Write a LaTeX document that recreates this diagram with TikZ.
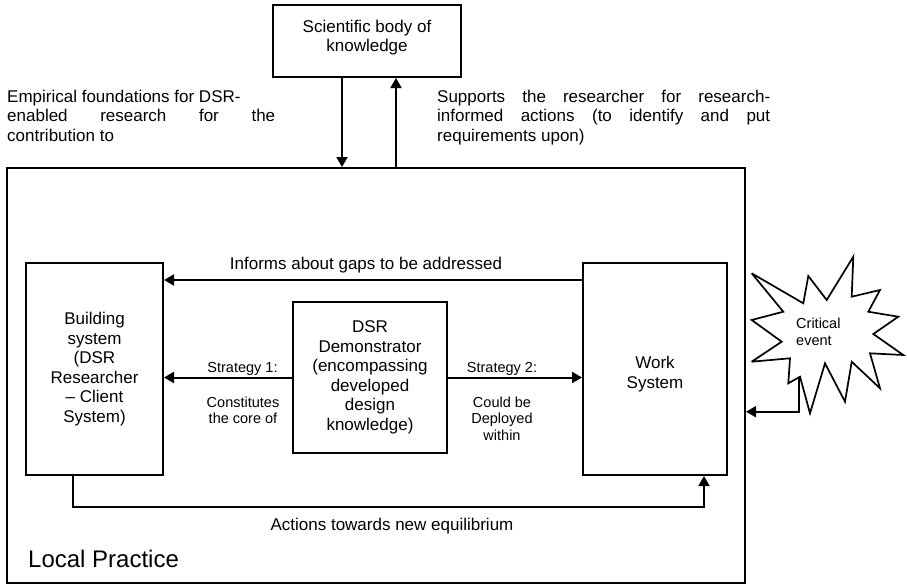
\documentclass[tikz,border=0pt]{standalone}
\usepackage{fontspec}
\setmainfont{Liberation Sans}
\usetikzlibrary{arrows.meta}
\begin{document}
\begin{tikzpicture}[x=1pt,y=-1pt,
  box/.style={draw, line width=2pt, inner sep=0pt},
  arr/.style={line width=2pt, -{Triangle[length=10pt,width=11pt]}},
  lbl/.style={font=\fontsize{17}{19.5}\selectfont, align=center, inner sep=0pt},
  small/.style={font=\fontsize{14.5}{16.5}\selectfont, align=center, inner sep=0pt},
]
\useasboundingbox (0,0) rectangle (907,584);

% boxes
\node[box, minimum width=188pt, minimum height=72pt] (sci) at (367,41) {};
\node[lbl, anchor=north] (scitxt) at (367,19.6) {Scientific body of\\knowledge};

\node[box, minimum width=738pt, minimum height=415pt] (main) at (376,375.5) {};

\node[box, lbl, minimum width=137pt, minimum height=212pt] (build) at (94.5,369)
  {Building\\system\\(DSR\\Researcher\\– Client\\System)};
\node[box, lbl, minimum width=154pt, minimum height=151pt] (demo) at (370,377.5)
  {DSR\\Demonstrator\\(encompassing\\developed\\design\\knowledge)};
\node[box, minimum width=144pt, minimum height=212pt] (work) at (655,369) {};
\node[lbl] (worktxt) at (655,374) {Work\\System};

% texts beside the knowledge links
\node[lbl, align=left, anchor=north west] (emp) at (7,89.6)
  {\makebox[268pt][l]{Empirical foundations for DSR-}\\\makebox[268pt][s]{enabled research for the}\\contribution to};
\node[lbl, align=left, anchor=north west] (sup) at (437,89.6)
  {\makebox[333pt][s]{Supports the researcher for research-}\\\makebox[333pt][s]{informed actions (to identify and put}\\requirements upon)};

% links to the body of knowledge
\coordinate (dnX) at (342,0);
\coordinate (upX) at (396,0);
\draw[arr] (sci.south -| dnX) -- (main.north -| dnX);
\draw[arr] (main.north -| upX) -- (sci.south -| upX);

% gaps
\coordinate (infoY) at (0,280);
\draw[arr] (work.west |- infoY) -- (build.east |- infoY);
\node[lbl, anchor=base] (info) at (366,269) {Informs about gaps to be addressed};

% strategies
\draw[arr] (demo.west) -- (build.east |- demo.west);
\draw[arr] (demo.east) -- (work.west |- demo.east);
\node[small, anchor=base] (s1) at (242.5,372) {Strategy 1:};
\node[small, anchor=north] (s1b) at (243,396.4) {Constitutes\\the core of};
\node[small, anchor=base] (s2) at (502,372) {Strategy 2:};
\node[small, anchor=north] (s2b) at (502,396.4) {Could be\\Deployed\\within};

% actions
\coordinate (actL) at (73,507);
\coordinate (actR) at (704,507);
\draw[arr] (build.south -| actL) -- (actL) -- (actR) -- (work.south -| actR);
\node[lbl, anchor=base] (acts) at (392,530) {Actions towards new equilibrium};

\node[anchor=base west, inner sep=0pt, font=\fontsize{24}{28}\selectfont] (lp) at (28,567) {Local Practice};

% critical event burst
\draw[line width=1.7pt, miter limit=4]
  (751.7,273.3) -- (803.3,303.3) -- (808.3,276) -- (826.7,300) -- (853.3,256.7)
  -- (851.7,296.7) -- (880,290) -- (868.3,311.7) -- (898.3,316.7) -- (873.3,334)
  -- (903.3,355) -- (870,353.3) -- (880,388.3) -- (851.7,361.7) -- (845,401.7)
  -- (825,363.3) -- (810,413.3) -- (800,376.7) -- (788.3,383.3) -- (790,358.3)
  -- (751.7,361.7) -- (781.7,341.7) -- (751.7,320) -- (783.3,311.7) -- cycle;
\node[small, align=left, anchor=west] (crit) at (796,332) {Critical\\event};
\coordinate (critfoot) at (798.5,377);
\coordinate (critbend) at (798.5,411.7);
\draw[arr] (critfoot) -- (critbend) -- (critbend -| main.east);
\end{tikzpicture}
\end{document}
